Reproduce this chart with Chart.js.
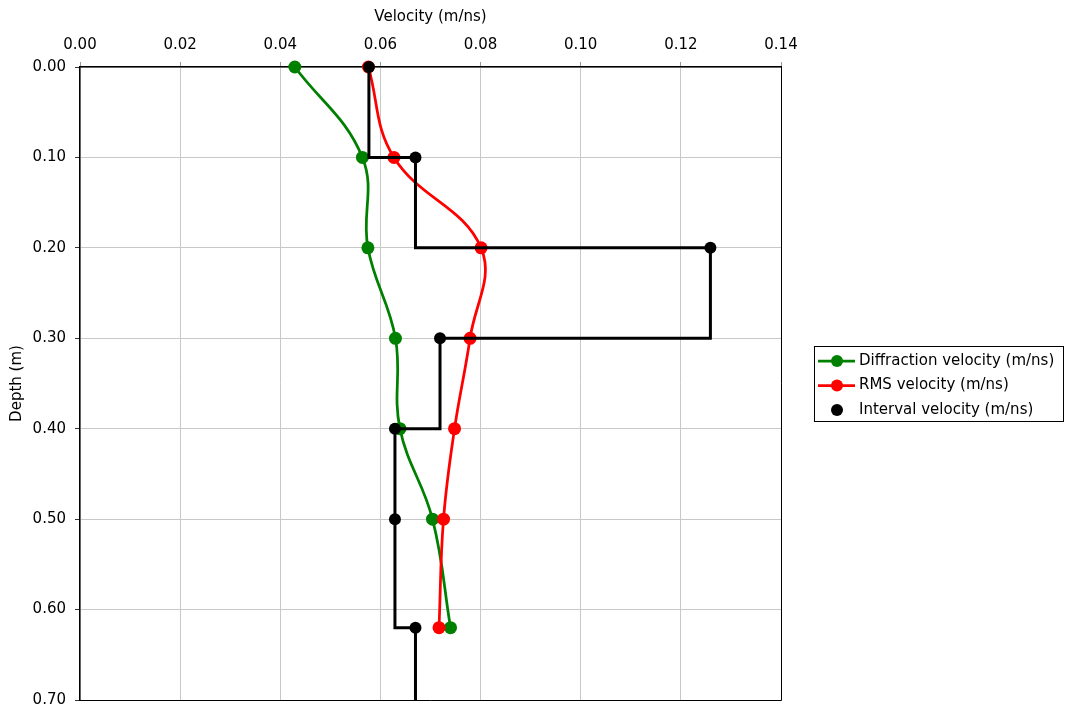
<!DOCTYPE html>
<html>
<head>
<meta charset="utf-8">
<script src="https://cdn.jsdelivr.net/npm/chart.js@4.4.1/dist/chart.umd.min.js"></script>
<style>
    body { margin: 0; background: #fff; }
    canvas { display: block; }
</style>
</head>
<body>
<canvas id="myChart" width="1065" height="711"></canvas>
<script>
// Données (profondeur en m, vitesses en m/ns)
const profondeurs = [0, 0.1, 0.2, 0.3, 0.4, 0.5, 0.62];
const vitesseDiffraction = [0.0429, 0.0564, 0.0575, 0.0630, 0.0639, 0.0704, 0.0740];
const vitesseRMS = [0.0576, 0.0627, 0.0801, 0.0779, 0.0748, 0.0726, 0.0717];
const vitesseIntervalle = [0.0577, 0.0670, 0.1259, 0.0719, 0.0629, 0.0629, 0.0670];
const profondeurFin = 0.70;

const nomsSeries = ['Diffraction velocity (m/ns)', 'RMS velocity (m/ns)', 'Interval velocity (m/ns)'];
const titreX = 'Velocity (m/ns)';
const titreY = 'Depth (m)';

var police = 'DejaVu Sans';
var grille = '#c8c8c8';

function points(vitesses) {
    return vitesses.map(function (v, i) {
        return { x: v, y: profondeurs[i] };
    });
}

// Ligne en escalier : on prolonge la dernière vitesse jusqu'au fond
var escalier = points(vitesseIntervalle);
escalier.push({ x: vitesseIntervalle[vitesseIntervalle.length - 1], y: profondeurFin });

var data = {
    datasets: [{
        label: nomsSeries[0],
        data: points(vitesseDiffraction),
        borderColor: '#008000',
        backgroundColor: '#008000',
        borderWidth: 2.75,
        pointRadius: 6.5,
        pointBorderWidth: 0,
        tension: 0.4,
        clip: false,
        order: 3,
        legendLine: true
    }, {
        label: nomsSeries[1],
        data: points(vitesseRMS),
        borderColor: '#ff0000',
        backgroundColor: '#ff0000',
        borderWidth: 2.75,
        pointRadius: 6.5,
        pointBorderWidth: 0,
        tension: 0.4,
        clip: false,
        order: 2,
        legendLine: true
    }, {
        label: nomsSeries[2],
        data: points(vitesseIntervalle),
        borderColor: '#000',
        backgroundColor: '#000',
        showLine: false,
        pointRadius: 6,
        pointBorderWidth: 0,
        clip: false,
        order: 0,
        legendLine: false
    }, {
        label: '',
        data: escalier,
        borderColor: '#000',
        borderWidth: 3,
        pointRadius: 0,
        stepped: 'after',
        clip: false,
        order: 1,
        hideInLegend: true
    }]
};

// Légende encadrée à droite, dessinée à la main
var legendeBox = {
    id: 'legendeBox',
    afterDraw: function (chart) {
        var ctx = chart.ctx;
        var x0 = 814, y0 = 346, w = 250, h = 76;
        ctx.save();
        ctx.fillStyle = '#fff';
        ctx.fillRect(x0, y0, w, h);
        ctx.strokeStyle = '#000';
        ctx.lineWidth = 1;
        ctx.strokeRect(x0 + 0.5, y0 + 0.5, w - 1, h - 1);
        ctx.font = '15px "' + police + '"';
        ctx.textBaseline = 'middle';
        var items = chart.data.datasets.filter(function (d) { return !d.hideInLegend; });
        items.forEach(function (d, i) {
            var y = y0 + 15 + i * 24.5;
            if (d.legendLine) {
                ctx.strokeStyle = d.borderColor;
                ctx.lineWidth = 2.75;
                ctx.beginPath();
                ctx.moveTo(818, y);
                ctx.lineTo(855, y);
                ctx.stroke();
            }
            ctx.fillStyle = d.backgroundColor;
            ctx.beginPath();
            ctx.arc(837, y, 6, 0, Math.PI * 2);
            ctx.fill();
            ctx.fillStyle = '#000';
            ctx.fillText(d.label, 859, y);
        });
        ctx.restore();
    }
};

// Bordures droite et basse de la zone de tracé
var cadre = {
    id: 'cadre',
    beforeDatasetsDraw: function (chart) {
        var a = chart.chartArea;
        var ctx = chart.ctx;
        ctx.save();
        ctx.strokeStyle = '#000';
        ctx.lineWidth = 1;
        ctx.beginPath();
        ctx.moveTo(a.right + 0.5, a.top);
        ctx.lineTo(a.right + 0.5, a.bottom + 0.5);
        ctx.lineTo(a.left, a.bottom + 0.5);
        ctx.stroke();
        ctx.restore();
    }
};

var options = {
    responsive: false,
    devicePixelRatio: 1,
    animation: false,
    layout: {
        padding: { left: 0, top: 0, right: 284, bottom: 11 }
    },
    scales: {
        x: {
            type: 'linear',
            position: 'top',
            min: 0,
            max: 0.14,
            afterFit: function (scale) {
                scale.height = 67;
                scale.paddingLeft = 0;
                scale.paddingRight = 0;
            },
            grid: {
                color: grille,
                tickLength: 5,
                tickColor: '#999'
            },
            border: { color: '#000', width: 1.5 },
            ticks: {
                stepSize: 0.02,
                padding: 8,
                color: '#000',
                font: { family: police, size: 15 },
                callback: function (v) { return v.toFixed(2); }
            },
            title: {
                display: true,
                text: titreX,
                color: '#000',
                font: { family: police, size: 15 },
                padding: { top: 8, bottom: 0 }
            }
        },
        y: {
            type: 'linear',
            reverse: true,
            min: 0,
            max: profondeurFin,
            afterFit: function (scale) {
                scale.width = 80;
                scale.paddingTop = 0;
                scale.paddingBottom = 0;
            },
            grid: {
                color: grille,
                tickLength: 5,
                tickColor: '#333'
            },
            border: { color: '#000', width: 1.5 },
            ticks: {
                stepSize: 0.1,
                padding: 9,
                color: '#000',
                font: { family: police, size: 15 },
                callback: function (v) { return v.toFixed(2); }
            },
            title: {
                display: true,
                text: titreY,
                color: '#000',
                font: { family: police, size: 15 },
                padding: { top: 8, bottom: 0 }
            }
        }
    },
    plugins: {
        legend: { display: false },
        tooltip: { enabled: false }
    }
};

var ctx = document.getElementById('myChart').getContext('2d');
var myChart = new Chart(ctx, {
    type: 'line',
    data: data,
    options: options,
    plugins: [cadre, legendeBox]
});
</script>
</body>
</html>
